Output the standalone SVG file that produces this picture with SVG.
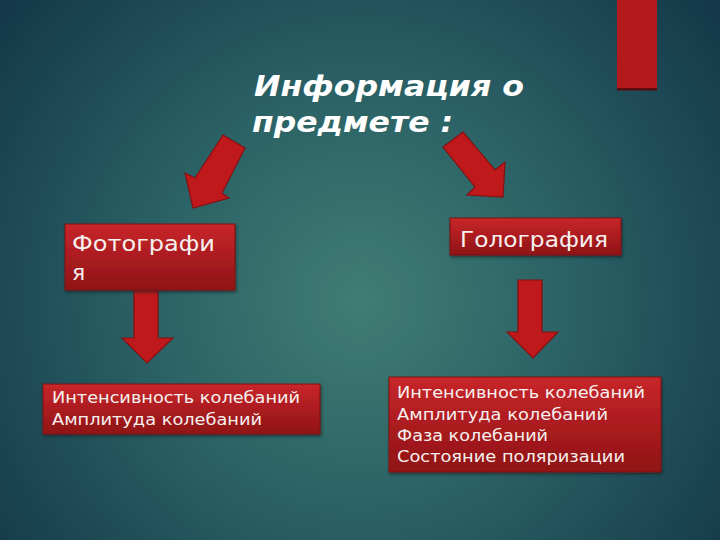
<svg xmlns="http://www.w3.org/2000/svg" width="720" height="540" viewBox="0 0 720 540">
<defs>
<radialGradient id="bg" cx="360" cy="300" r="460" gradientUnits="userSpaceOnUse">
<stop offset="0" stop-color="#407d73"/>
<stop offset="0.45" stop-color="#2b6266"/>
<stop offset="1" stop-color="#143849"/>
</radialGradient>
<linearGradient id="box" x1="0" y1="0" x2="0" y2="1">
<stop offset="0" stop-color="#c8262a"/>
<stop offset="1" stop-color="#8f1315"/>
</linearGradient>
<filter id="sh" x="-10%" y="-10%" width="120%" height="130%">
<feDropShadow dx="1" dy="2" stdDeviation="1.5" flood-color="#0b1e24" flood-opacity="0.6"/>
</filter>
</defs>
<style>
.box{fill:url(#box);stroke:#7e1012;stroke-width:1;filter:url(#sh)}
.arr{fill:#c0191c;stroke:#861012;stroke-width:1.2;stroke-linejoin:miter}
.t{font-family:"DejaVu Sans","Liberation Sans",sans-serif;fill:#f6f0ef}
.title{font-family:"DejaVu Sans","Liberation Sans",sans-serif;font-weight:bold;font-style:italic;fill:#ffffff;font-size:29px}
</style>
<rect width="720" height="540" fill="url(#bg)"/>
<rect x="617" y="0" width="40" height="90" fill="#b31a1c"/>
<rect x="617" y="88" width="40" height="2.5" fill="#5a0d10"/>

<g id="title">
<text class="title" x="254" y="96" textLength="270" lengthAdjust="spacingAndGlyphs">Информация о</text>
<text class="title" x="252" y="132" textLength="201" lengthAdjust="spacingAndGlyphs">предмете :</text>
</g>

<g id="connectors">
<polygon class="arr" points="223,135 245,148 222,193 229,198 193,208 185,173 195,178"/>
<polygon class="arr" points="443,147 463,132 495,170 505,162 503,197 467,195 475,187"/>
<polygon class="arr" points="134,290 158,290 158,338 173,338 147,363 122,338 134,338"/>
<polygon class="arr" points="518,280 542,280 542,332 558,332 533,358 507,332 518,332"/>
</g>

<g id="photo">
<rect class="box" x="65" y="224" width="170" height="66"/>
<text class="t" x="72" y="251" font-size="22" textLength="143" lengthAdjust="spacingAndGlyphs">Фотографи</text>
<text class="t" x="72" y="280" font-size="22">я</text>
</g>

<g id="holo">
<rect class="box" x="450" y="218" width="171" height="37"/>
<text class="t" x="460" y="246.5" font-size="22" textLength="148" lengthAdjust="spacingAndGlyphs">Голография</text>
</g>

<g id="photo-props">
<rect class="box" x="43" y="384" width="277" height="50"/>
<text class="t" x="52" y="403" font-size="16" textLength="248" lengthAdjust="spacingAndGlyphs">Интенсивность колебаний</text>
<text class="t" x="52" y="425" font-size="16" textLength="210" lengthAdjust="spacingAndGlyphs">Амплитуда колебаний</text>
</g>

<g id="holo-props">
<rect class="box" x="389" y="377" width="272" height="95"/>
<text class="t" x="397" y="398" font-size="16" textLength="248" lengthAdjust="spacingAndGlyphs">Интенсивность колебаний</text>
<text class="t" x="397" y="419.5" font-size="16" textLength="211" lengthAdjust="spacingAndGlyphs">Амплитуда колебаний</text>
<text class="t" x="397" y="440.5" font-size="16" textLength="151" lengthAdjust="spacingAndGlyphs">Фаза колебаний</text>
<text class="t" x="397" y="461.5" font-size="16" textLength="228" lengthAdjust="spacingAndGlyphs">Состояние поляризации</text>
</g>
</svg>
